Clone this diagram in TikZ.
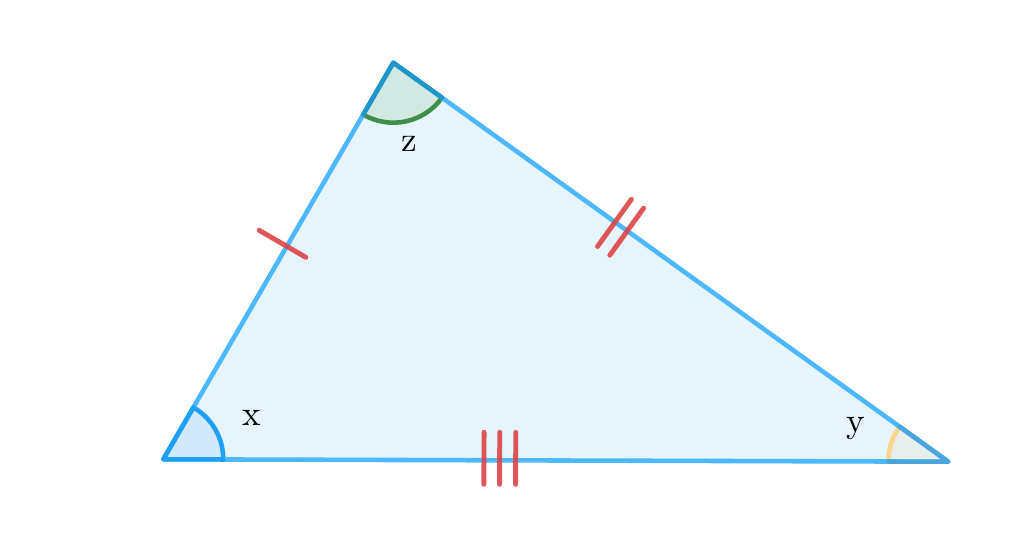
\documentclass[tikz,border=0pt]{standalone}
\usepackage{tikz}
\usetikzlibrary{calc,angles}
\definecolor{edgeblue}{RGB}{77,184,255}
\definecolor{areablue}{RGB}{230,244,252}
\definecolor{tickred}{RGB}{219,68,72}
\definecolor{arcblue}{RGB}{30,160,245}
\definecolor{secblue}{RGB}{208,234,252}
\definecolor{arcgreen}{RGB}{62,143,74}
\definecolor{secgreen}{RGB}{210,232,226}
\definecolor{arcyellow}{RGB}{249,214,140}
\definecolor{secgray}{RGB}{232,238,236}
\definecolor{radteal}{RGB}{32,150,200}
\definecolor{radgray}{RGB}{75,165,220}

\begin{document}
\begin{tikzpicture}[line cap=round, line join=round,
      side/.style={draw=edgeblue, line width=1.3pt},
      tickmark/.style={draw=tickred, line width=1.4pt, draw opacity=0.9},
      ang/.style={angle radius=0.6cm, line width=1.3pt}]
      \useasboundingbox (0,0) rectangle (10.1,5.46);
      \coordinate (A) at (1.633,0.867);
      \coordinate (B) at (3.933,4.833);
      \coordinate (C) at (9.483,0.843);
      \fill[areablue] (A) -- (B) -- (C) -- cycle;
      \pic[ang, fill=secblue, draw=arcblue] {angle = C--A--B};
      \pic[ang, fill=secgreen, draw=arcgreen] {angle = A--B--C};
      \pic[ang, fill=secgray, draw=arcyellow] {angle = B--C--A};
      \draw[side] (A) -- (B) -- (C) -- cycle;
      % sides look darker under the angle marks
      \foreach \v/\p/\q/\c in {A/B/C/arcblue, B/A/C/radteal, C/A/B/radgray}
      \draw[line width=1.3pt, \c] ($(\v)!0.6cm!(\p)$) -- (\v) -- ($(\v)!0.6cm!(\q)$);
      % equal-side ticks
      \coordinate (mAB) at ($(A)!0.537!(B)$);
      \draw[tickmark] ($(mAB)!0.32cm!90:(B)$) -- ($(mAB)!0.22cm!-90:(B)$);
      \foreach \t in {0.3995,0.4216}
      \draw[tickmark] ($($(B)!\t!(C)$)!0.28cm!90:(C)$) -- ($($(B)!\t!(C)$)!0.30cm!-90:(C)$);
      \foreach \t in {0.4085,0.4285,0.4489}
      \draw[tickmark] ($($(A)!\t!(C)$)!0.28cm!90:(C)$) -- ($($(A)!\t!(C)$)!0.24cm!-90:(C)$);
      \node[anchor=base] (lx) at (2.517,1.20) {x};
      \node[anchor=base] (lz) at (4.093,3.943) {z};
      \node[anchor=base] (ly) at (8.56,1.133) {y};
\end{tikzpicture}
\end{document}
